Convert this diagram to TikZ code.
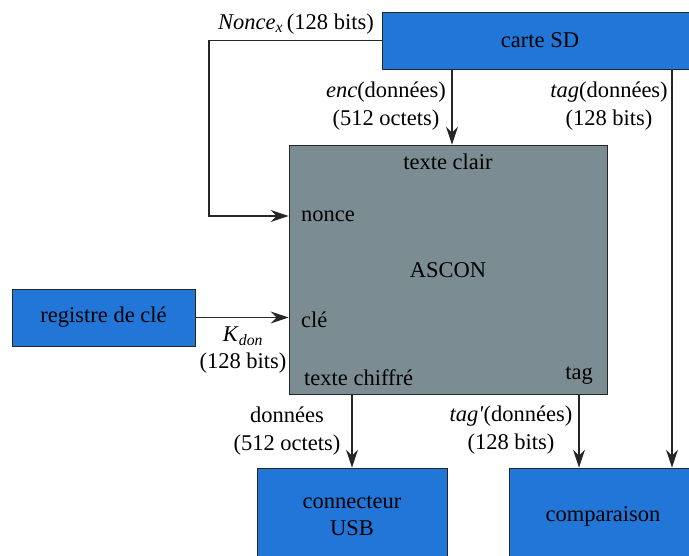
\documentclass[tikz,border=0pt]{standalone}
\usepackage{fontspec}
\setmainfont{Liberation Serif}
\usetikzlibrary{arrows.meta}
\definecolor{boxblue}{HTML}{2176D8}
\definecolor{boxgray}{HTML}{7B8C92}
\tikzset{
  blk/.style={draw=black!85, line width=0.9pt, fill=boxblue, minimum width=#1, inner sep=0pt, align=center, text=black},
  arr/.style={line width=1.1pt, draw=black!85, -{Stealth[length=18pt,width=12pt,inset=6pt]}},
  lbl/.style={inner sep=0pt, align=center},
}
\begin{document}
\begin{tikzpicture}[x=1pt,y=-1pt, font=\fontsize{22.5}{27.5}\selectfont]
\useasboundingbox (0,0) rectangle (689,556);
\clip (0,0) rectangle (689,556);
% boxes
\node[blk=316pt, minimum height=57pt] (sd) at (540,40.5) {carte SD};
\node[blk=318pt, minimum height=249pt, fill=boxgray] (ascon) at (448,269.5) {};
\node[blk=183pt, minimum height=57pt] (reg) at (103.5,317.5) {registre de clé};
\node[blk=190pt, minimum height=96pt] (usb) at (352,516) {connecteur\\USB};
\node[blk=188pt, minimum height=96pt] (comp) at (603,516) {comparaison};
% texts inside ASCON
\node[lbl] (tclair) at (448,162) {texte clair};
\node[lbl, anchor=west] (lnonce) at (301,216) {nonce};
\node[lbl] (lascon) at (448,270) {ASCON};
\node[lbl, anchor=west] (lcle) at (301,320) {clé};
\node[lbl, anchor=west] (tchif) at (304,378) {texte chiffré};
\node[lbl, anchor=east] (ltag) at (593,376) {tag};
% connector labels
\node[lbl] (nlab) at (296,24) {\textit{Nonce}\textsubscript{\textit{x}}\,(128 bits)};
\node[lbl] (enclab) at (386,106) {\textit{enc}(données)\\(512 octets)};
\node[lbl] (taglab) at (609,106) {\textit{tag}(données)\\(128 bits)};
\node[lbl] (klab) at (243,350) {\textit{K}\textsubscript{\textit{don}}\\(128 bits)};
\node[lbl] (dlab) at (287,431) {données\\(512 octets)};
\node[lbl] (tplab) at (511,430) {\textit{tag\textquotesingle}(données)\\(128 bits)};
% helper coordinates
\coordinate (nx) at (209,0);
\coordinate (ex) at (452,0);
\coordinate (tx) at (672,0);
\coordinate (px) at (579,0);
% connectors
\draw[arr] (sd.west) -- (sd.west -| nx) |- (ascon.west |- lnonce);
\draw[arr] (sd.south -| ex) -- (ascon.north -| ex);
\draw[arr] (sd.south -| tx) -- (comp.north -| tx);
\draw[arr] (reg.east) -- (ascon.west |- reg.east);
\draw[arr] (ascon.south -| usb.north) -- (usb.north);
\draw[arr] (ascon.south -| px) -- (comp.north -| px);
\end{tikzpicture}
\end{document}
